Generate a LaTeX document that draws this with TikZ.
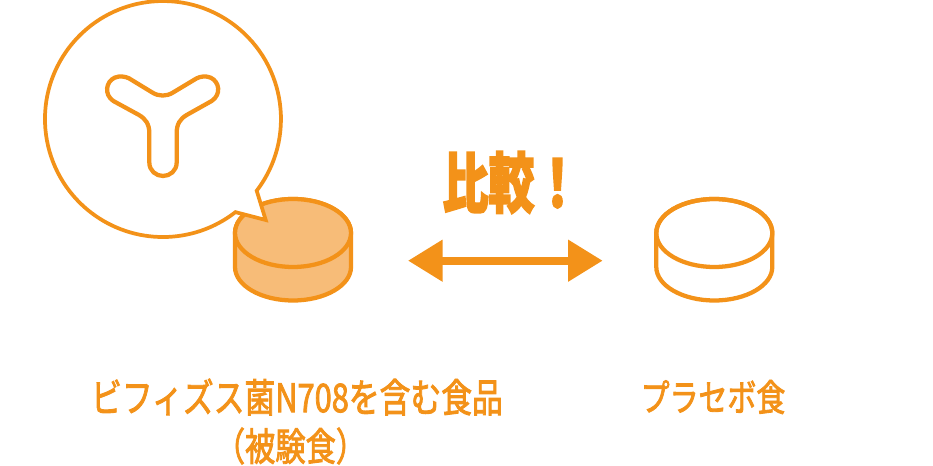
\documentclass[tikz,border=0pt]{standalone}
\usepackage{fontspec}
\usetikzlibrary{arrows.meta}
\newfontfamily\cjk[FakeBold=2.4]{Noto Sans CJK JP}
\newfontfamily\cjkheavy[FakeBold=3]{Noto Sans CJK JP}
\definecolor{accent}{HTML}{F39219}
\definecolor{tabletfill}{HTML}{F7BC78}
\tikzset{
  outline/.style={draw=accent,line width=3.2pt,line join=miter},
  thin outline/.style={draw=accent,line width=2.8pt,line join=miter},
  label text/.style={text=accent,inner sep=0pt,yscale=1.28,font=\cjk\fontsize{21.7pt}{24pt}\selectfont},
  compare arrow/.style={draw=accent,line width=6pt,{Triangle[length=26pt,width=30pt,fill=accent]}-{Triangle[length=26pt,width=30pt,fill=accent]}},
}
\newcommand{\tablet}[3]{%
  \path[#3] (#1-58,#2) -- (#1-58,#2+34) arc[start angle=180,end angle=0,x radius=58,y radius=33.5] -- (#1+58,#2) arc[start angle=0,end angle=-180,x radius=58,y radius=34] -- cycle;
  \path[#3] (#1,#2) ellipse[x radius=58,y radius=34];
}
\begin{document}
\begin{tikzpicture}[x=0.75pt,y=-0.75pt]
\useasboundingbox (0,0) rectangle (933,466);
% left tablet
\tablet{293}{233}{outline,fill=tabletfill}
% speech bubble
\path[thin outline,fill=white]
  (265.7,220) -- (256.7,190.7)
  arc[start angle=37.4,end angle=-307.9,radius=118] -- cycle;
% bacterium
\begin{scope}[shift={(30,0)},x=0.25pt,y=-0.25pt]
\draw[outline]
  (440,488) -- (440,400) .. controls (440,372) and (450,357) .. (470,345)
  -- (545,303) .. controls (575,283) and (568,245) .. (542,233)
  .. controls (528,227) and (512,229) .. (500,235)
  -- (430,277) .. controls (410,290) and (386,290) .. (366,277)
  -- (297,235) .. controls (285,229) and (268,227) .. (254,233)
  .. controls (228,245) and (221,283) .. (250,303)
  -- (327,345) .. controls (347,357) and (358,372) .. (358,400)
  -- (358,488) .. controls (358,512) and (378,528) .. (399,528)
  .. controls (420,528) and (440,512) .. (440,488) -- cycle;
\end{scope}
% right tablet
\tablet{714.3}{233}{outline}
% arrow
\coordinate (arrowL) at (408,260.7);
\coordinate (arrowR) at (602.7,260.7);
\draw[compare arrow] (arrowL) -- (arrowR);
% labels
\node[text=accent,inner sep=0pt,yscale=1.42] (compare) at (511.5,182.5) {\cjkheavy\bfseries\fontsize{34.5pt}{36pt}\selectfont 比較！};
\node[label text,font=\cjk\fontsize{23.1pt}{24pt}\selectfont] (food) at (297,397) {ビフィズス菌N708を含む食品};
\node[label text,font=\cjk\fontsize{22.7pt}{24pt}\selectfont] (test) at (290.5,446) {（被験食）};
\node[label text] (placebo) at (713,397) {プラセボ食};
\end{tikzpicture}
\end{document}
